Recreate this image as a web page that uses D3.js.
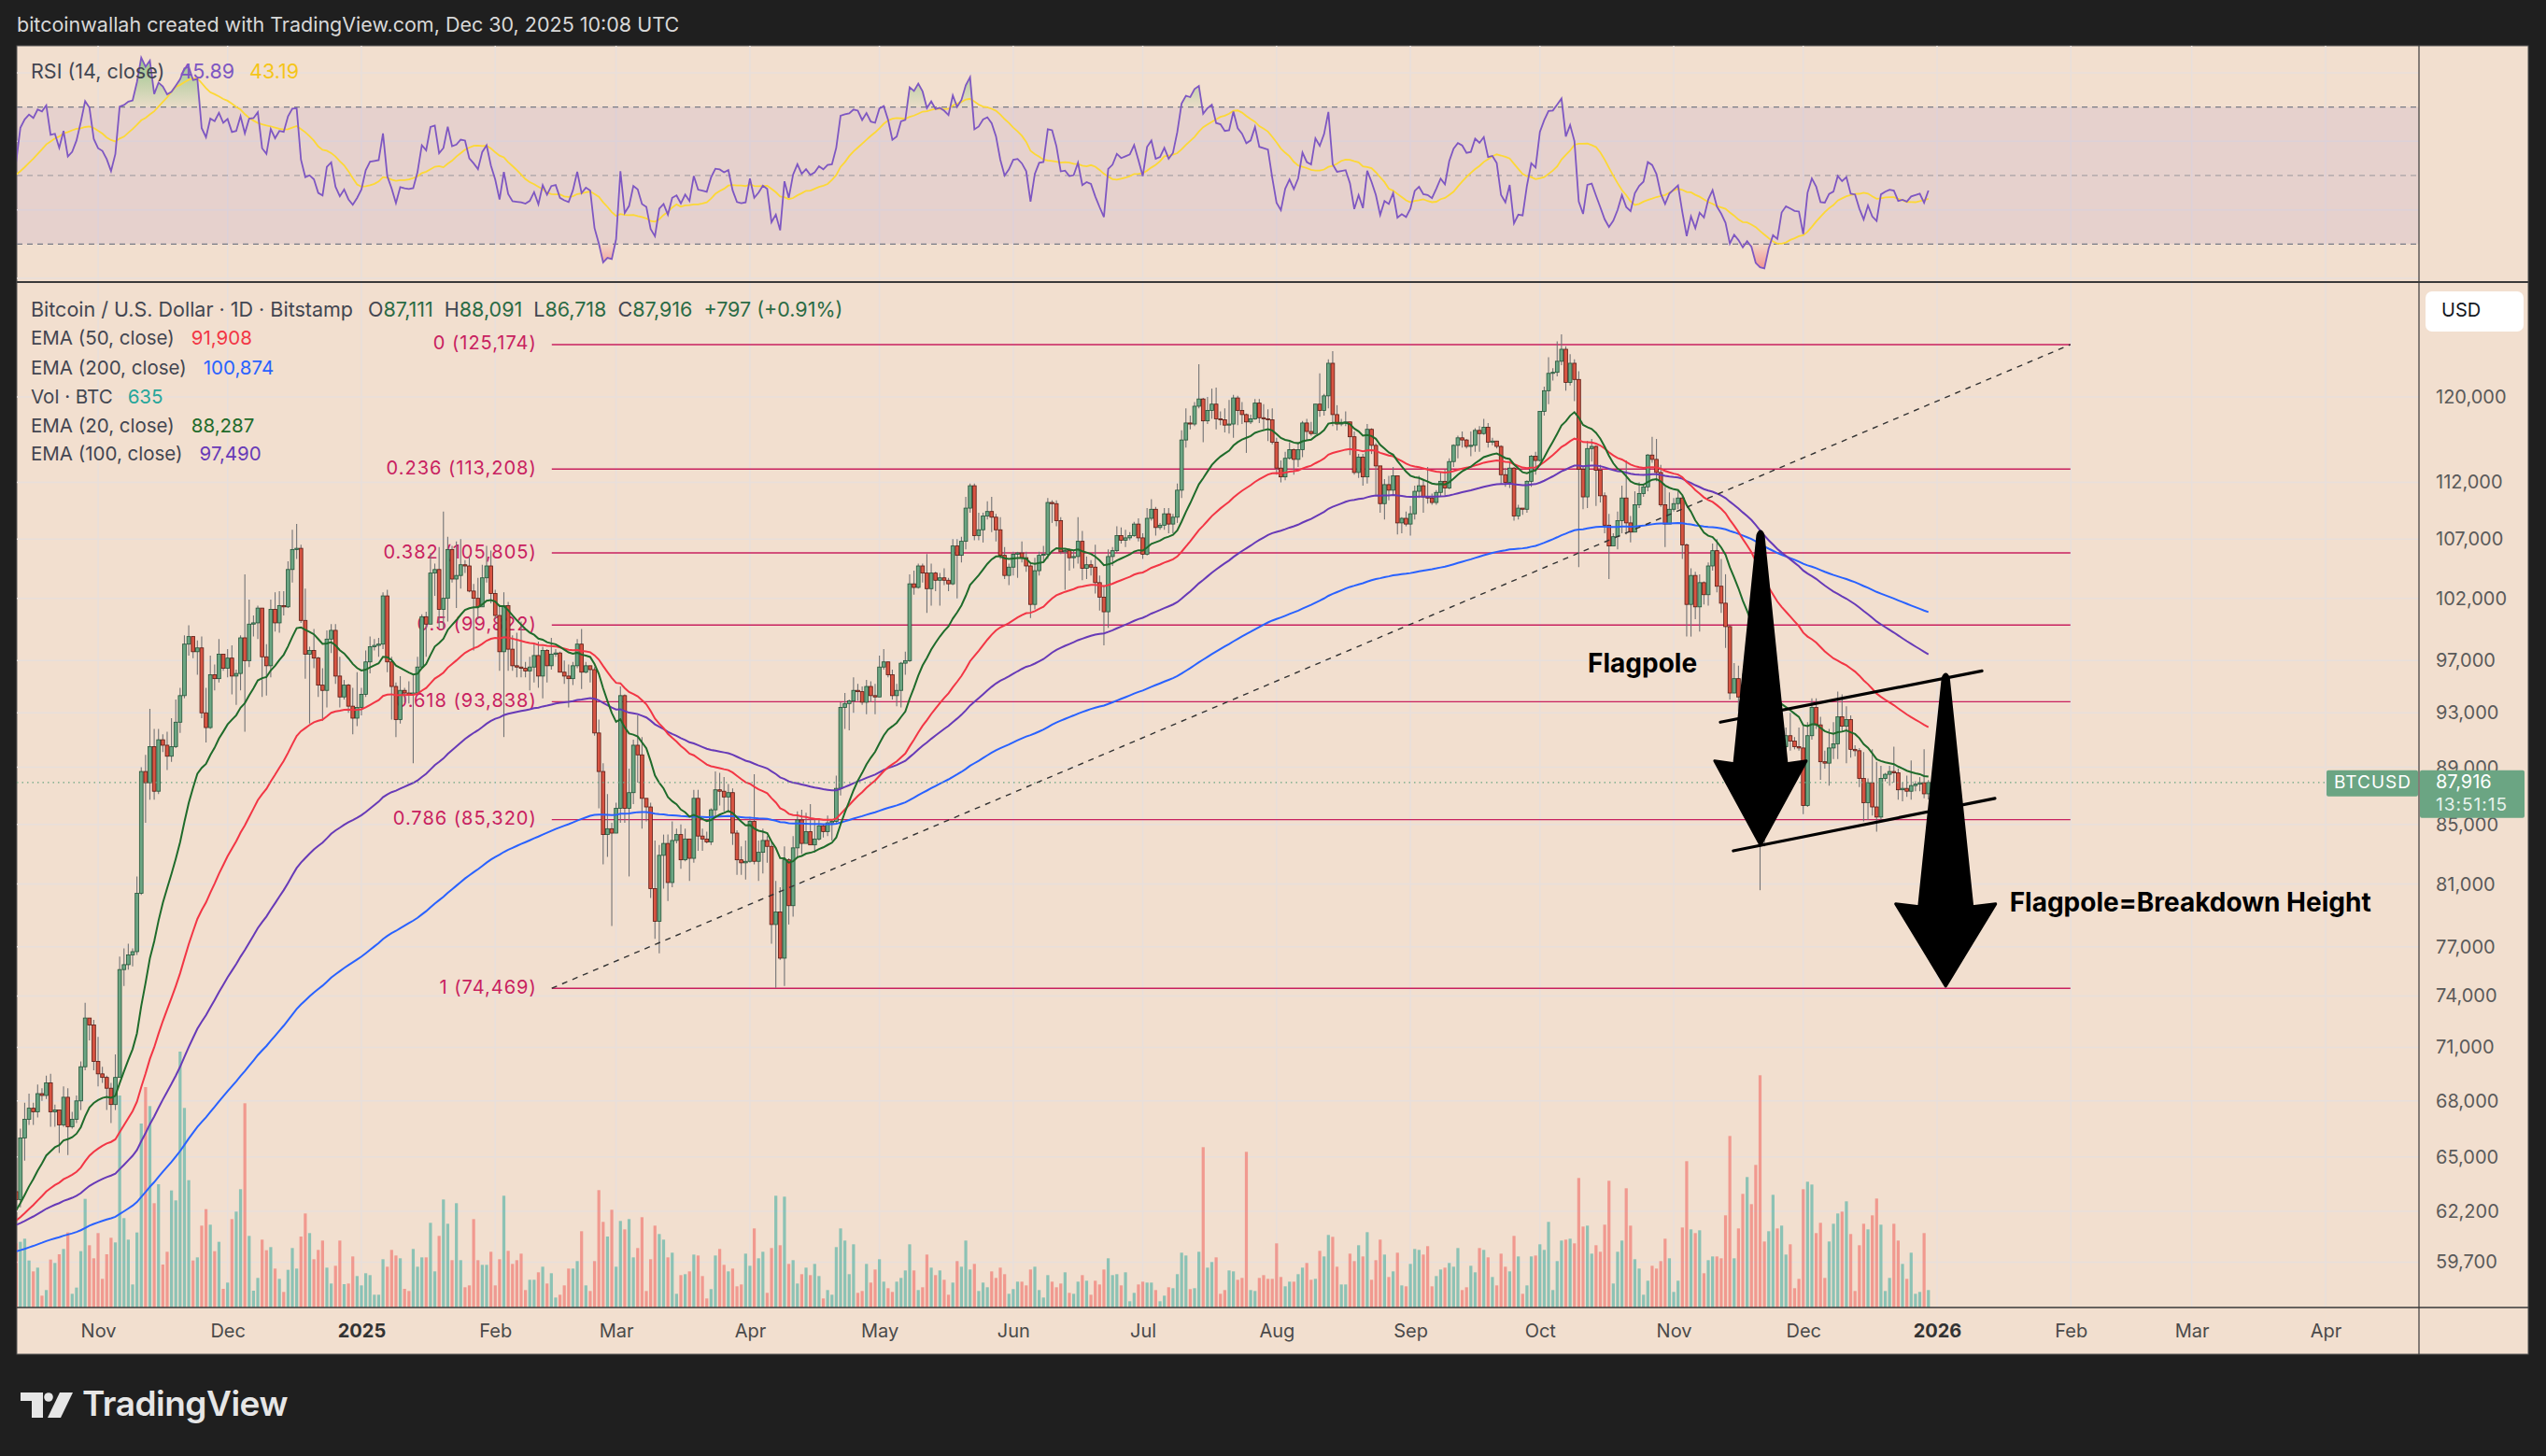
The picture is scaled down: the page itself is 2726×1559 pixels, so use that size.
<!DOCTYPE html>
<html>
<head>
<meta charset="utf-8">
<script src="https://cdn.jsdelivr.net/npm/d3@7"></script>
<style>
  html, body { margin: 0; padding: 0; background: #1f1f1f; }
  svg { display: block; font-family: Inter, "Noto Sans", sans-serif; }
</style>
</head>
<body>
<svg id="chart" width="2726" height="1559"></svg>
<script>
// ---- daily BTC/USD bars (Bitstamp), 13 Oct 2024 .. 30 Dec 2025, prices in thousands USD ----
const firstOpen = 63.2;
const closes = [
  62.8,66.0,67.0,67.6,67.4,68.4,68.3,69.0,67.4,67.5,66.7,68.2,66.6,67.0,68.0,69.9,72.7,72.3,70.2,
  69.5,69.3,68.7,67.8,69.3,75.6,75.9,76.5,76.7,80.4,88.7,87.9,90.5,87.3,91.0,90.6,89.8,90.5,92.3,94.3,98.3,98.9,97.7,98.0,93.0,91.9,95.9,95.6,97.5,96.4,
  97.2,95.8,96.0,98.8,97.0,99.9,100.0,101.2,97.3,96.6,101.1,100.0,101.4,101.3,104.4,106.1,106.2,100.2,97.5,97.8,97.2,95.1,94.7,98.7,99.4,95.8,94.2,95.1,93.5,92.6,93.4,
  94.4,96.9,98.1,98.2,98.3,102.2,96.9,95.0,92.5,94.7,94.5,94.4,94.5,96.5,100.5,99.9,104.1,104.4,101.1,102.0,106.1,103.6,103.9,104.8,104.7,102.6,102.0,101.3,103.7,104.7,102.4,
  100.6,97.7,101.4,97.9,96.6,96.5,96.4,96.2,96.5,97.4,95.8,97.8,96.6,97.5,97.6,96.1,95.8,95.6,96.6,98.3,96.1,96.6,96.3,91.5,88.7,84.3,84.7,84.4,
  86.1,94.3,86.1,87.2,90.6,89.9,86.8,86.2,80.7,78.6,82.9,83.7,81.1,83.9,84.3,82.6,84.0,82.7,86.8,84.2,84.0,83.8,86.0,87.4,87.3,86.9,87.2,84.4,82.6,82.4,82.5,
  85.2,82.5,83.1,83.9,83.5,78.4,79.2,76.3,82.6,79.6,83.4,85.3,83.7,84.5,83.6,84.0,84.9,84.5,85.1,85.2,87.5,93.4,93.7,93.9,94.7,94.6,93.8,95.0,94.3,94.2,
  96.5,96.9,95.9,94.3,94.7,96.8,97.0,103.2,102.9,104.7,104.1,102.8,104.1,103.5,103.7,103.5,103.2,106.4,105.6,106.8,109.7,111.7,107.3,107.8,109.0,109.4,108.9,107.8,105.6,103.9,104.6,
  105.7,105.8,105.4,104.7,101.5,104.3,105.6,105.7,110.2,110.1,108.6,105.9,106.0,105.4,105.5,106.8,104.5,104.8,104.6,103.3,102.1,100.9,105.5,106.0,107.3,106.9,107.1,107.3,108.3,107.1,
  105.7,108.8,109.6,108.0,108.2,109.2,108.3,108.9,111.3,115.9,117.5,117.4,119.1,119.8,117.7,118.7,119.3,117.9,117.8,117.3,117.4,119.9,118.7,118.3,117.6,117.9,119.4,118.0,117.9,117.8,115.7,
  113.3,112.5,114.2,115.0,114.1,115.0,117.5,116.7,116.5,119.3,118.7,120.1,123.3,118.3,117.4,117.5,117.6,116.2,112.9,114.3,112.5,116.9,115.4,113.5,110.1,111.8,111.3,112.6,108.4,108.8,108.3,
  109.2,111.2,111.7,110.7,110.6,110.2,111.1,112.1,111.5,113.9,115.4,116.1,115.9,115.3,115.4,116.8,116.5,117.1,115.7,115.8,115.3,112.7,112.0,113.3,109.0,109.7,109.6,112.1,114.4,114.0,
  118.6,120.6,122.3,122.4,123.5,124.7,121.4,123.3,121.7,113.2,110.7,115.1,115.3,113.1,110.8,108.2,106.4,107.2,108.6,110.6,108.4,107.6,110.0,111.0,111.6,114.5,114.1,112.9,110.0,108.3,109.6,
  110.1,110.6,106.5,101.5,103.9,101.3,103.3,102.3,104.7,106.0,103.0,101.6,99.7,94.5,95.6,94.2,92.2,92.9,91.5,86.6,85.1,84.7,86.8,88.3,87.4,90.5,91.3,90.9,90.5,90.4,
  86.3,91.3,93.4,92.1,89.4,89.3,90.4,90.7,92.7,92.0,92.5,90.3,90.2,88.2,86.5,87.9,86.2,85.5,88.2,88.5,88.7,88.6,87.4,87.5,87.3,87.7,87.8,87.9,87.119,87.916
];
const highs = [
  63.3,66.5,67.9,68.4,67.9,68.9,68.7,69.4,69.5,67.8,67.5,68.8,68.7,67.4,68.3,70.2,73.6,72.7,72.6,
  71.6,69.9,69.4,69.0,70.6,76.4,76.9,77.2,76.9,81.5,89.0,89.9,93.3,91.8,91.8,91.4,91.6,92.6,94.0,94.9,99.0,99.8,98.9,98.6,98.9,94.9,97.4,96.7,98.7,97.5,
  97.9,98.2,96.3,99.0,104.0,101.9,100.6,101.4,101.2,98.3,101.9,102.5,102.6,102.6,105.1,107.8,108.3,106.5,102.8,98.1,99.5,97.3,96.4,99.4,99.9,99.9,97.3,95.5,95.2,94.9,96.1,
  94.9,97.8,98.9,98.7,98.8,102.5,102.7,97.3,95.3,95.8,94.9,95.4,95.9,97.3,100.7,100.9,105.8,104.9,106.3,109.4,107.2,106.4,106.8,107.0,105.2,105.5,103.2,103.7,104.8,106.4,106.0,
  102.7,101.5,102.5,101.7,99.0,99.2,100.1,96.9,97.3,98.3,98.5,98.1,97.9,98.8,97.9,97.7,97.0,96.7,96.9,98.7,99.5,96.9,96.6,96.5,92.5,89.3,87.1,85.1,
  86.5,95.0,94.4,88.9,91.0,92.8,91.2,86.8,86.5,83.9,83.6,84.3,84.3,85.2,84.7,85.0,84.7,84.0,87.4,87.4,84.7,84.5,86.1,88.7,88.6,88.3,87.8,87.5,84.6,83.5,83.9,
  85.5,88.5,83.9,84.7,84.2,83.8,81.2,80.8,83.5,82.7,84.2,85.9,86.0,85.8,86.4,85.4,85.4,85.0,85.6,85.3,88.4,93.8,94.5,94.0,95.7,95.2,95.0,95.5,95.4,95.2,
  97.4,97.9,96.9,96.3,95.2,96.9,97.7,104.0,104.3,104.9,104.9,105.7,104.9,104.2,104.1,104.5,103.7,107.0,107.0,107.2,110.7,111.9,111.9,109.3,109.3,110.3,110.7,109.2,108.9,106.3,104.9,
  105.9,105.9,106.8,105.9,105.0,105.4,105.9,106.4,110.6,110.4,110.4,108.9,106.2,106.2,106.0,108.9,107.7,105.5,105.2,106.5,103.9,103.1,106.1,106.3,108.1,108.0,107.8,107.6,108.5,108.8,
  107.5,109.7,110.5,109.8,108.4,109.7,109.7,109.2,111.9,116.8,118.9,118.2,119.5,123.2,119.9,120.0,120.8,120.9,118.6,118.9,119.7,120.2,120.1,119.5,118.4,118.3,119.8,119.8,119.3,118.8,118.9,
  116.1,114.0,114.8,115.7,115.1,115.7,117.7,117.9,117.6,119.3,122.3,120.3,123.7,124.5,119.2,117.9,118.6,117.6,116.7,114.6,114.6,117.4,117.0,115.6,113.5,112.3,112.6,113.4,112.6,108.9,109.4,
  109.9,111.7,112.6,112.2,113.4,111.0,111.3,112.9,113.2,114.2,115.5,116.3,116.7,116.0,116.7,117.0,117.2,117.9,117.5,116.1,115.8,115.4,113.3,113.9,113.4,110.0,109.7,112.2,114.5,114.8,
  118.6,121.0,123.9,122.8,125.5,126.2,125.0,124.2,123.7,122.5,113.4,115.8,116.0,115.4,113.6,111.1,109.2,107.5,109.4,111.7,114.0,109.0,111.2,112.0,111.9,114.6,116.2,116.0,113.6,111.6,111.1,
  110.6,111.2,110.8,106.6,104.5,104.2,104.0,103.4,105.0,106.6,107.0,105.3,104.0,99.8,96.8,96.6,96.0,93.8,93.1,93.2,87.4,85.6,88.0,89.2,88.5,91.0,91.9,93.0,91.2,91.9,
  92.1,92.3,94.1,94.1,92.7,90.2,91.8,92.3,94.6,94.4,93.5,92.8,90.6,90.4,90.1,88.2,90.3,89.4,89.1,88.6,89.1,90.5,88.9,87.9,88.4,89.5,88.0,88.3,90.3,88.091
];
const lows = [
  62.0,62.4,64.8,66.7,66.7,67.1,68.0,68.1,66.6,66.6,65.2,66.6,65.1,66.5,66.8,67.5,69.7,71.4,69.7,
  68.8,69.0,67.5,66.8,67.5,69.3,74.6,75.6,75.8,76.5,80.3,85.1,86.7,86.7,87.1,90.1,88.8,89.4,90.4,91.5,94.1,97.4,97.2,95.9,92.6,90.8,91.8,94.7,95.3,96.2,
  95.7,94.4,93.6,94.7,91.6,96.5,98.9,98.7,94.2,94.3,95.7,99.3,99.2,100.6,101.2,103.3,105.3,100.0,95.6,92.2,96.4,94.2,92.4,93.4,97.6,95.2,93.4,94.0,93.0,91.4,92.0,
  92.8,94.2,96.0,97.8,97.3,97.9,96.1,92.5,91.2,92.2,93.8,93.7,89.3,94.4,96.5,97.3,99.9,102.2,99.6,99.5,100.1,103.3,101.2,102.8,104.1,102.5,97.8,100.3,101.3,103.3,101.6,
  100.3,96.2,91.2,96.2,96.2,95.7,95.7,95.7,94.7,95.3,94.9,94.1,95.3,96.3,97.3,96.1,95.2,93.4,95.1,96.4,94.8,96.0,95.3,91.3,86.1,82.3,82.8,78.3,
  84.4,85.1,85.1,81.5,86.4,87.9,84.7,85.2,80.1,77.5,76.6,80.7,79.9,80.8,83.7,82.0,82.5,81.2,82.4,83.2,83.2,83.7,83.6,85.5,86.3,85.9,85.8,83.6,81.6,81.6,81.3,
  82.4,82.3,81.2,81.7,82.4,77.2,74.5,76.2,74.6,78.4,78.9,82.7,83.0,83.7,83.6,83.1,83.9,84.1,84.2,83.9,85.0,87.0,91.8,91.7,93.0,93.9,93.6,92.9,93.8,92.9,
  94.2,96.3,95.7,94.0,93.5,93.4,95.9,96.9,102.3,102.8,103.3,100.8,101.4,102.6,101.4,103.1,102.6,103.1,102.0,105.0,106.1,109.3,106.9,106.9,106.7,108.7,107.6,106.8,105.3,103.6,103.1,
  103.9,103.7,105.0,104.2,100.4,101.1,103.9,105.1,105.3,108.4,108.1,105.7,102.7,104.3,104.5,104.9,103.5,103.6,103.9,102.4,101.0,98.2,99.6,104.7,105.8,106.6,106.3,106.9,107.2,106.8,
  105.3,105.6,108.6,107.3,107.8,107.8,107.5,107.5,108.4,110.6,115.2,116.9,117.2,118.9,115.7,117.4,117.9,116.9,117.3,116.6,116.5,116.1,117.3,117.4,114.7,117.4,117.8,117.5,116.9,115.8,115.5,
  112.7,112.0,112.2,114.1,112.7,113.4,114.3,115.9,116.3,116.6,118.1,118.2,118.9,117.2,116.8,117.2,117.2,114.5,112.7,112.4,111.7,111.9,114.6,110.9,109.3,108.7,110.4,110.9,107.4,107.5,108.1,
  107.3,108.7,110.6,109.3,110.1,110.0,110.0,110.7,110.8,111.4,113.4,114.2,115.2,115.1,114.4,114.8,114.8,116.4,115.2,115.4,115.1,111.9,111.6,111.5,108.6,108.7,109.1,109.3,111.6,112.7,
  113.9,118.2,119.3,121.6,122.0,123.1,120.6,121.1,119.6,104.6,109.6,109.7,113.9,109.9,110.2,107.5,103.6,106.4,106.1,107.5,107.4,106.7,107.6,109.7,110.7,111.2,113.8,112.1,109.8,106.3,108.6,
  109.4,109.6,105.3,98.9,98.9,100.3,99.3,101.5,101.4,104.3,102.5,100.8,98.0,94.0,94.6,93.1,91.3,89.3,88.6,86.2,80.6,83.5,84.7,85.3,86.2,86.3,89.2,90.2,90.3,90.2,
  85.7,86.2,91.0,91.8,88.1,88.9,87.7,89.6,89.6,91.6,89.3,89.7,89.8,87.6,85.2,85.3,85.6,84.5,85.2,88.0,87.7,87.9,86.7,86.6,86.9,86.7,87.3,87.3,86.8,86.718
];
// daily volume
const volumes = [
  206,211,221,151,116,128,38,56,154,143,171,188,241,44,64,181,349,200,158,239,92,
  171,224,209,681,287,218,74,241,591,708,647,335,396,138,179,376,344,822,641,409,
  151,161,263,316,266,181,211,60,80,284,308,380,656,230,54,95,218,184,194,125,
  92,50,121,191,125,228,302,239,155,185,215,128,77,134,215,75,77,164,101,71,
  110,104,41,41,155,131,185,167,158,60,53,188,131,161,161,272,116,230,347,269,
  152,335,152,65,71,284,152,137,137,179,71,155,359,182,140,152,173,56,89,89,
  113,131,77,110,32,41,71,125,125,149,245,71,53,149,377,275,228,314,131,278,
  251,284,161,191,290,53,155,263,236,218,161,176,44,104,107,116,170,167,101,29,
  59,167,188,137,116,125,68,74,173,134,254,158,179,47,191,359,200,356,140,152,
  77,107,128,104,140,101,29,56,41,194,254,215,107,203,47,53,140,80,122,155,
  83,62,50,83,95,119,203,119,56,65,170,128,104,119,89,41,80,149,131,215,
  122,140,53,80,65,116,95,128,107,44,59,83,83,71,122,131,56,32,104,83,
  65,77,113,47,44,83,104,86,41,86,74,122,158,104,107,71,113,20,47,74,
  83,80,80,56,20,38,65,62,107,176,167,59,62,179,515,128,146,161,44,56,
  119,116,89,95,500,56,53,95,104,92,92,206,98,68,83,83,107,128,143,89,
  92,182,164,233,227,131,74,74,173,149,200,164,242,89,152,218,170,98,116,176,
  71,68,140,188,185,170,197,68,101,122,128,143,131,191,56,65,134,113,191,185,
  161,98,71,173,131,116,230,164,44,71,164,167,203,185,275,56,149,215,218,221,
  206,416,260,263,173,200,179,266,407,77,179,215,383,263,155,125,41,86,134,125,
  149,221,158,50,86,257,470,251,239,248,110,152,164,164,158,296,551,158,254,365,
  419,332,458,746,212,245,362,254,263,170,203,62,92,380,404,395,239,272,95,212,
  269,302,308,341,236,53,200,269,251,296,350,266,53,95,269,215,140,92,176,44,
  50,239,56
];

// indicator starting states (value just before the first bar)
const emaSeeds = { 20: 62.2, 50: 61.7, 100: 61.5, 200: 60.2 };
const rsiSeed = { gain: 0.515, loss: 0.409 };
const rsiMaSeed = 50;

// axis ticks
const priceTicks = [120, 112, 107, 102, 97, 93, 89, 85, 81, 77, 74, 71, 68, 65, 62.2, 59.7];
const rsiTicks = [80, 60, 40, 20];
const monthTicks = ['2024-11-01','2024-12-01','2025-01-01','2025-02-01','2025-03-01','2025-04-01','2025-05-01',
  '2025-06-01','2025-07-01','2025-08-01','2025-09-01','2025-10-01','2025-11-01','2025-12-01','2026-01-01',
  '2026-02-01','2026-03-01','2026-04-01'];
const monthLabels = ['Nov','Dec','2025','Feb','Mar','Apr','May','Jun','Jul','Aug','Sep','Oct','Nov','Dec','2026','Feb','Mar','Apr'];

// fibonacci retracement levels
const fibLevels = [
  { r: '0', p: 125.174 }, { r: '0.236', p: 113.208 }, { r: '0.382', p: 105.805 }, { r: '0.5', p: 99.822 },
  { r: '0.618', p: 93.838 }, { r: '0.786', p: 85.320 }, { r: '1', p: 74.469 }
];
const fibSpan = [124.1, 475.9]; // bar index of the two anchors

// hand drawn annotations: [bar index, price]
const trendLine = [[124.1, 74.469], [475.9, 125.174]];
const flagUpper = [[394.8, 92.3], [455.4, 96.2]];
const flagLower = [[397.8, 83.2], [458.4, 86.8]];
const arrows = [
  { i: 404.1, from: 107.5, to: 83.6, shaft: 56, head: 98, headH: 87 },
  { i: 447.0, from: 95.8, to: 74.6, shaft: 57, head: 107, headH: 85 }
];
const notes = [
  { i: 364.1, p: 96.6, text: 'Flagpole' },
  { i: 461.8, p: 79.7, text: 'Flagpole=Breakdown Height' }
];

// ---------------------------------------------------------------------
const W = 2726, H = 1559;
const padL = 18, plotR = 2590, outerR = 2707;
const paneTop = 49, rsiBottom = 302, mainBottom = 1400, axisBottom = 1450;
const GREEN = '#6ba583', RED = '#d75442';

const svg = d3.select('#chart');
const defs = svg.append('defs');

const day = 864e5, t0 = Date.UTC(2024, 9, 13);
const dateOf = i => new Date(t0 + i * day);
const x = d3.scaleUtc().domain([dateOf(0), new Date(Date.UTC(2026, 0, 1))]).range([17.2, 2074]);
const xi = i => x(dateOf(i));

const y = d3.scaleLog().domain([57.56, 131.65]).range([mainBottom, rsiBottom]);
const yR = d3.scaleLinear().domain([18.9, 87.9]).range([rsiBottom, paneTop]);
const yV = d3.scaleLinear().domain([0, d3.max(volumes)]).range([mainBottom, mainBottom - 274]);

const bars = closes.map((c, i) => ({
  i, o: i ? closes[i - 1] : firstOpen, c, h: highs[i], l: lows[i], v: volumes[i]
}));

function ema(vals, n) {
  const k = 2 / (n + 1);
  let e = emaSeeds[n];
  return vals.map(v => (e = v * k + e * (1 - k)));
}
const emas = [
  { n: 200, color: '#2962ff' }, { n: 100, color: '#673ab7' },
  { n: 50, color: '#f23645' }, { n: 20, color: '#1f6b2b' }
].map(d => ({ ...d, vals: ema(closes, d.n) }));

let ag = rsiSeed.gain, al = rsiSeed.loss;
const rsi = bars.map(b => {
  const ch = b.c - b.o;
  ag = (ag * 13 + Math.max(ch, 0)) / 14;
  al = (al * 13 + Math.max(-ch, 0)) / 14;
  return 100 - 100 / (1 + ag / al);
});
const rsiMa = rsi.map((v, i) => {
  const w = rsi.slice(Math.max(0, i - 13), i + 1);
  return (d3.sum(w) + (14 - w.length) * rsiMaSeed) / 14;
});

// ---- frame ----
svg.append('rect').attr('width', W).attr('height', H).attr('fill', '#1f1f1f');
svg.append('text').attr('x', 18).attr('y', 28).attr('dominant-baseline', 'middle')
  .attr('font-size', 21.5).attr('fill', '#d8d8d8')
  .text('bitcoinwallah created with TradingView.com, Dec 30, 2025 10:08 UTC');
svg.append('rect').attr('x', padL).attr('y', paneTop)
  .attr('width', outerR - padL).attr('height', axisBottom - paneTop)
  .attr('fill', '#f2dfcf').attr('stroke', '#555').attr('stroke-width', 1);

defs.append('clipPath').attr('id', 'clipMain').append('rect')
  .attr('x', padL).attr('y', rsiBottom).attr('width', plotR - padL).attr('height', mainBottom - rsiBottom);
defs.append('clipPath').attr('id', 'clipRsi').append('rect')
  .attr('x', padL).attr('y', paneTop).attr('width', plotR - padL).attr('height', rsiBottom - paneTop);
defs.append('clipPath').attr('id', 'clipRsiAxis').append('rect')
  .attr('x', plotR).attr('y', paneTop).attr('width', outerR - plotR).attr('height', rsiBottom - paneTop);

// ---- grid ----
const parse = d3.utcParse('%Y-%m-%d');
const monthDates = monthTicks.map(parse);
const grid = svg.append('g').attr('stroke', '#e8dfdb').attr('stroke-width', 1.5);
grid.selectAll('.vg').data(monthDates).join('line')
  .attr('x1', d => x(d)).attr('x2', d => x(d)).attr('y1', paneTop).attr('y2', mainBottom);
grid.selectAll('.hg').data(priceTicks).join('line')
  .attr('x1', padL).attr('x2', plotR).attr('y1', d => y(d)).attr('y2', d => y(d));
grid.selectAll('.rg').data(rsiTicks).join('line')
  .attr('x1', padL).attr('x2', plotR).attr('y1', d => yR(d)).attr('y2', d => yR(d));

// ---- RSI pane ----
const rsiG = svg.append('g').attr('clip-path', 'url(#clipRsi)');
rsiG.append('rect').attr('x', padL).attr('width', plotR - padL)
  .attr('y', yR(70)).attr('height', yR(30) - yR(70)).attr('fill', 'rgba(126,87,194,0.1)');
[[70, 1], [50, 0.55], [30, 1]].forEach(([v, op]) => {
  rsiG.append('line').attr('x1', padL).attr('x2', plotR).attr('y1', yR(v)).attr('y2', yR(v))
    .attr('stroke', '#787b86').attr('stroke-opacity', op).attr('stroke-width', 1.3)
    .attr('stroke-dasharray', '6,5');
});
const ob = defs.append('linearGradient').attr('id', 'obGrad').attr('gradientUnits', 'userSpaceOnUse')
  .attr('x1', 0).attr('x2', 0).attr('y1', yR(86)).attr('y2', yR(70));
ob.append('stop').attr('offset', 0).attr('stop-color', 'rgb(76,175,80)').attr('stop-opacity', 0.6);
ob.append('stop').attr('offset', 1).attr('stop-color', 'rgb(76,175,80)').attr('stop-opacity', 0.05);
const os = defs.append('linearGradient').attr('id', 'osGrad').attr('gradientUnits', 'userSpaceOnUse')
  .attr('x1', 0).attr('x2', 0).attr('y1', yR(30)).attr('y2', yR(20));
os.append('stop').attr('offset', 0).attr('stop-color', 'rgb(242,54,69)').attr('stop-opacity', 0.05);
os.append('stop').attr('offset', 1).attr('stop-color', 'rgb(242,54,69)').attr('stop-opacity', 0.6);
rsiG.append('path').datum(rsi).attr('fill', 'url(#obGrad)')
  .attr('d', d3.area().x((d, i) => xi(i)).y0(yR(70)).y1(d => yR(Math.max(d, 70))));
rsiG.append('path').datum(rsi).attr('fill', 'url(#osGrad)')
  .attr('d', d3.area().x((d, i) => xi(i)).y0(yR(30)).y1(d => yR(Math.min(d, 30))));
rsiG.append('path').datum(rsiMa).attr('fill', 'none').attr('stroke', '#fdd835').attr('stroke-width', 1.8)
  .attr('d', d3.line().x((d, i) => xi(i)).y(d => yR(d)));
rsiG.append('path').datum(rsi).attr('fill', 'none').attr('stroke', '#7e57c2').attr('stroke-width', 1.8)
  .attr('d', d3.line().x((d, i) => xi(i)).y(d => yR(d)));

// ---- main pane ----
const main = svg.append('g').attr('clip-path', 'url(#clipMain)');

main.append('g').selectAll('rect').data(bars).join('rect')
  .attr('x', d => xi(d.i) - 1.6).attr('width', 3.2)
  .attr('y', d => yV(d.v)).attr('height', d => mainBottom - yV(d.v))
  .attr('fill', d => d.c >= d.o ? 'rgba(38,166,154,0.5)' : 'rgba(239,83,80,0.5)');

// fibonacci retracement
const fibG = main.append('g');
fibG.selectAll('line').data(fibLevels).join('line')
  .attr('x1', xi(fibSpan[0])).attr('x2', xi(fibSpan[1]))
  .attr('y1', d => y(d.p)).attr('y2', d => y(d.p))
  .attr('stroke', '#c8215f').attr('stroke-width', 1.4);
fibG.selectAll('text').data(fibLevels).join('text')
  .attr('x', xi(fibSpan[0]) - 16).attr('y', d => y(d.p))
  .attr('text-anchor', 'end').attr('dominant-baseline', 'middle')
  .attr('font-size', 20).attr('letter-spacing', 1).attr('fill', '#c8215f')
  .text(d => `${d.r} (${d3.format(',')(Math.round(d.p * 1000))})`);

// candles
const candles = main.append('g').selectAll('g').data(bars).join('g');
candles.append('line')
  .attr('x1', d => xi(d.i)).attr('x2', d => xi(d.i))
  .attr('y1', d => y(Math.max(d.h, d.o, d.c))).attr('y2', d => y(Math.min(d.l, d.o, d.c)))
  .attr('stroke', '#737375').attr('stroke-width', 1.1);
candles.append('rect')
  .attr('x', d => xi(d.i) - 1.9).attr('width', 3.8)
  .attr('y', d => y(Math.max(d.o, d.c)))
  .attr('height', d => Math.max(1, Math.abs(y(d.o) - y(d.c))))
  .attr('fill', d => d.c >= d.o ? GREEN : RED)
  .attr('stroke', d => d.c >= d.o ? '#225437' : '#5b1a13').attr('stroke-width', 0.8);

// EMAs
emas.forEach(e => {
  main.append('path').datum(e.vals).attr('fill', 'none').attr('stroke', e.color).attr('stroke-width', 2)
    .attr('d', d3.line().x((d, i) => xi(i)).y(d => y(d)));
});

// last price line
const last = bars[bars.length - 1];
main.append('line').attr('x1', padL).attr('x2', plotR).attr('y1', y(last.c)).attr('y2', y(last.c))
  .attr('stroke', GREEN).attr('stroke-width', 1.2).attr('stroke-dasharray', '1.5,4');

// drawings
main.append('line')
  .attr('x1', xi(trendLine[0][0])).attr('y1', y(trendLine[0][1]))
  .attr('x2', xi(trendLine[1][0])).attr('y2', y(trendLine[1][1]))
  .attr('stroke', '#333').attr('stroke-width', 1.4).attr('stroke-dasharray', '6,6');
[flagUpper, flagLower].forEach(l => {
  main.append('line')
    .attr('x1', xi(l[0][0])).attr('y1', y(l[0][1])).attr('x2', xi(l[1][0])).attr('y2', y(l[1][1]))
    .attr('stroke', '#000').attr('stroke-width', 3.2).attr('stroke-linecap', 'round');
});
main.selectAll('.arrow').data(arrows).join('path')
  .attr('fill', '#000').attr('stroke', '#000').attr('stroke-width', 3).attr('stroke-linejoin', 'round')
  .attr('d', a => {
    const cx = xi(a.i), yt = y(a.from), tip = y(a.to), yb = tip - a.headH;
    return `M${cx - 3},${yt + 2} Q${cx},${yt - 6} ${cx + 3},${yt + 2}`
      + ` L${cx + a.shaft / 2},${yb} L${cx + a.head / 2},${yb - 3} L${cx},${tip}`
      + ` L${cx - a.head / 2},${yb - 3} L${cx - a.shaft / 2},${yb} Z`;
  });
main.selectAll('.note').data(notes).join('text')
  .attr('x', d => xi(d.i)).attr('y', d => y(d.p)).attr('dominant-baseline', 'middle')
  .attr('font-size', 28).attr('font-weight', 700).attr('fill', '#000')
  .text(d => d.text);

// ---- legends ----
function legend(yPos, size, parts) {
  const t = svg.append('text').attr('x', 33).attr('y', yPos).attr('dominant-baseline', 'middle')
    .attr('font-size', size);
  parts.forEach(([s, c, dx]) => t.append('tspan').attr('fill', c).attr('dx', dx || 0).text(s));
}
const TXT = '#434651', DG = '#2b6b45';
legend(78, 21.5, [['RSI (14, close)', TXT], ['45.89', '#7e57c2', 16], ['43.19', '#f5c518', 16]]);
legend(333, 21.5, [['Bitcoin / U.S. Dollar · 1D · Bitstamp', TXT],
  ['O', TXT, 16], ['87,111', DG], ['H', TXT, 12], ['88,091', DG], ['L', TXT, 12], ['86,718', DG],
  ['C', TXT, 12], ['87,916', DG], ['+797 (+0.91%)', DG, 12]]);
legend(363, 20.5, [['EMA (50, close)', TXT], ['91,908', '#f23645', 18]]);
legend(395, 20.5, [['EMA (200, close)', TXT], ['100,874', '#2962ff', 18]]);
legend(426, 20.5, [['Vol · BTC', TXT], ['635', '#26a69a', 16]]);
legend(457, 20.5, [['EMA (20, close)', TXT], ['88,287', '#1f6b2b', 18]]);
legend(487, 20.5, [['EMA (100, close)', TXT], ['97,490', '#673ab7', 18]]);

// ---- axes ----
const pAxis = svg.append('g').attr('transform', `translate(${plotR},0)`)
  .call(d3.axisRight(y).tickValues(priceTicks).tickSize(0).tickPadding(18)
    .tickFormat(d => d3.format(',')(Math.round(d * 1000))));
pAxis.select('.domain').remove();
pAxis.selectAll('text').attr('font-size', 20).attr('fill', '#5a5a5a').attr('font-family', 'Inter, sans-serif');

const rAxis = svg.append('g').attr('transform', `translate(${plotR},0)`).attr('clip-path', 'url(#clipRsiAxis)')
  .call(d3.axisRight(yR).tickValues(rsiTicks).tickSize(0).tickPadding(18).tickFormat(d3.format('.2f')));
rAxis.select('.domain').remove();
rAxis.selectAll('text').attr('font-size', 20).attr('fill', '#5a5a5a').attr('font-family', 'Inter, sans-serif');

const xAxis = svg.append('g').attr('transform', `translate(0,${mainBottom})`)
  .call(d3.axisBottom(x).tickValues(monthDates).tickSize(0).tickPadding(18)
    .tickFormat((d, i) => monthLabels[i]));
xAxis.select('.domain').remove();
xAxis.selectAll('text').attr('font-size', 20).attr('font-family', 'Inter, sans-serif')
  .attr('fill', (d, i) => /^\d/.test(monthLabels[i]) ? '#333' : '#4a4a4a')
  .attr('font-weight', (d, i) => /^\d/.test(monthLabels[i]) ? 700 : 400);

// separators
const sep = svg.append('g').attr('stroke', '#3a3a3a');
sep.append('line').attr('x1', plotR).attr('x2', plotR).attr('y1', paneTop).attr('y2', axisBottom).attr('stroke-width', 1.2);
sep.append('line').attr('x1', padL).attr('x2', outerR).attr('y1', rsiBottom).attr('y2', rsiBottom).attr('stroke-width', 1.8);
sep.append('line').attr('x1', padL).attr('x2', outerR).attr('y1', mainBottom).attr('y2', mainBottom).attr('stroke-width', 1.4);

// currency button
svg.append('rect').attr('x', 2597).attr('y', 312).attr('width', 105).attr('height', 43).attr('rx', 7)
  .attr('fill', '#fff');
svg.append('text').attr('x', 2614).attr('y', 334).attr('dominant-baseline', 'middle')
  .attr('font-size', 20).attr('fill', '#131722').text('USD');

// last price tag
const yl = y(last.c);
svg.append('rect').attr('x', 2491).attr('y', yl - 13).attr('width', 98).attr('height', 28).attr('rx', 2)
  .attr('fill', GREEN);
svg.append('text').attr('x', 2499).attr('y', yl + 1).attr('dominant-baseline', 'middle')
  .attr('font-size', 19).attr('fill', '#fff').attr('letter-spacing', 1).text('BTCUSD');
svg.append('rect').attr('x', 2591).attr('y', yl - 13).attr('width', 112).attr('height', 51).attr('rx', 2)
  .attr('fill', GREEN);
svg.append('text').attr('x', 2608).attr('y', yl + 1).attr('dominant-baseline', 'middle')
  .attr('font-size', 20).attr('fill', '#fff').text(d3.format(',')(Math.round(last.c * 1000)));
svg.append('text').attr('x', 2608).attr('y', yl + 25).attr('dominant-baseline', 'middle')
  .attr('font-size', 19).attr('fill', '#e8f2ec').attr('letter-spacing', 1).text('13:51:15');

// ---- TradingView logo ----
const logo = svg.append('g').attr('fill', '#e6e6e6');
logo.append('path').attr('d', 'M22,1491 H46 V1518 H34 V1500 H22 Z');
logo.append('circle').attr('cx', 52).attr('cy', 1496).attr('r', 4.8);
logo.append('path').attr('d', 'M64,1491 H78 L65,1518 H51 Z');
logo.append('text').attr('x', 88).attr('y', 1506).attr('dominant-baseline', 'middle')
  .attr('font-size', 37).attr('font-weight', 600).attr('letter-spacing', -0.5).text('TradingView');
</script>
</body>
</html>
